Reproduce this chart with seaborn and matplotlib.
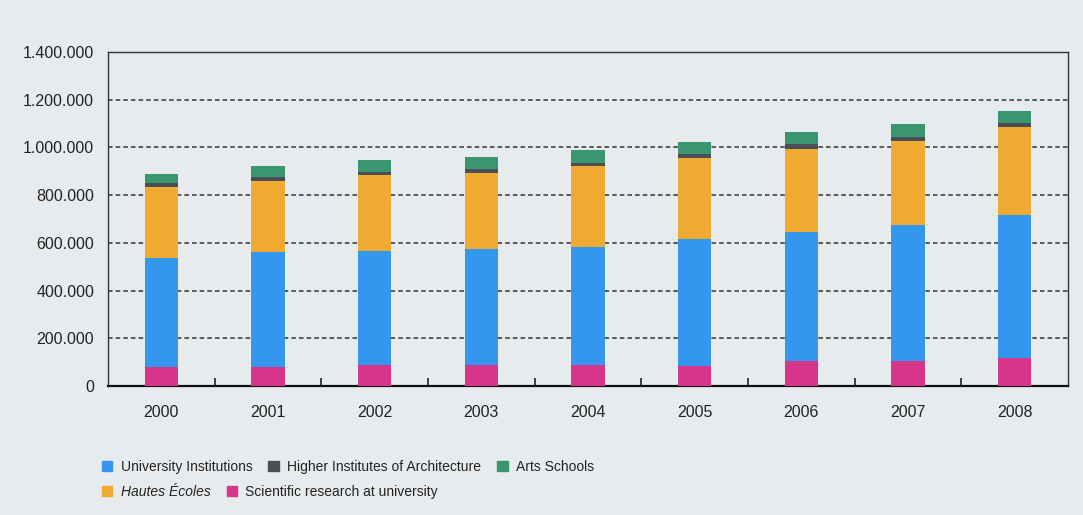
import numpy as np
import pandas as pd
import seaborn as sns
import matplotlib.pyplot as plt
from matplotlib.patches import Patch
from matplotlib.ticker import FuncFormatter, FixedLocator

# Data (in students)
years = ["2000", "2001", "2002", "2003", "2004", "2005", "2006", "2007", "2008"]
research = [78000, 80000, 88000, 88000, 88000, 85000, 106000, 106000, 117000]
university = [457000, 482000, 478000, 486000, 496000, 530000, 541000, 568000, 600000]
hautes_ecoles = [298000, 298000, 319000, 320000, 340000, 342000, 347000, 353000, 369000]
architecture = [17000, 15000, 14000, 16000, 12000, 16000, 19000, 16000, 15000]
arts = [39000, 49000, 49000, 51000, 54000, 50000, 53000, 54000, 51000]

series_names = ["Scientific research at university", "University Institutions",
                "Hautes Écoles", "Higher Institutes of Architecture", "Arts Schools"]
colors = {"Scientific research at university": "#d6358b",
          "University Institutions": "#3497ee",
          "Hautes Écoles": "#efaa33",
          "Higher Institutes of Architecture": "#4b4f55",
          "Arts Schools": "#3a9670"}

df = pd.DataFrame({"Year": years,
                   "Scientific research at university": research,
                   "University Institutions": university,
                   "Hautes Écoles": hautes_ecoles,
                   "Higher Institutes of Architecture": architecture,
                   "Arts Schools": arts})

sns.set_theme(style="white")
plt.rcParams["font.family"] = ["Liberation Sans", "DejaVu Sans"]

bg = "#e8ebee"
fig = plt.figure(figsize=(10.83, 5.15), dpi=100, facecolor=bg)
ax = fig.add_axes([108 / 1083, 1 - 386 / 515, (1068 - 108) / 1083, (386 - 52) / 515])
ax.set_facecolor(bg)

# stacked bars, bottom to top
bottom = np.zeros(len(years))
for name in series_names:
    sns.barplot(data=df, x="Year", y=name, color=colors[name], width=0.31,
                bottom=bottom, ax=ax, saturation=1, linewidth=0, zorder=3)
    bottom = bottom + df[name].values

ax.set_xlim(-0.5, len(years) - 0.5)
ax.set_ylim(0, 1400000)
ax.set_yticks(np.arange(0, 1400001, 200000))
ax.yaxis.set_major_formatter(FuncFormatter(lambda v, p: f"{int(v):,}".replace(",", ".")))
ax.xaxis.set_minor_locator(FixedLocator(np.arange(0.5, len(years) - 1, 1)))
ax.tick_params(axis="x", which="major", length=0, pad=14, labelsize=11.5, colors="#222222")
ax.tick_params(axis="x", which="minor", direction="in", length=6, width=1.2, color="#222222", bottom=True)
ax.tick_params(axis="y", length=0, pad=10, labelsize=11.5, colors="#222222")
ax.set_xlabel("")
ax.set_ylabel("")

for y in range(200000, 1200001, 200000):
    ax.axhline(y, color="#333333", linestyle=(0, (3, 2)), linewidth=1.1, zorder=1)

for side in ["left", "top", "right"]:
    ax.spines[side].set_color("#333333")
    ax.spines[side].set_linewidth(1.0)
ax.spines["bottom"].set_color("#111111")
ax.spines["bottom"].set_linewidth(1.6)

# Legend, two rows like the original
row1 = ["University Institutions", "Higher Institutes of Architecture", "Arts Schools"]
row2 = ["Hautes Écoles", "Scientific research at university"]
kw = dict(frameon=False, handlelength=0.75, handleheight=0.75, handletextpad=0.6,
          columnspacing=1.15, borderpad=0, borderaxespad=0, loc="center left",
          fontsize=10)
leg1 = fig.legend(handles=[Patch(color=colors[n], label=n) for n in row1], ncol=3,
                  bbox_to_anchor=(102 / 1083, 1 - 467 / 515), **kw)
leg2 = fig.legend(handles=[Patch(color=colors[n], label=n) for n in row2], ncol=2,
                  bbox_to_anchor=(102 / 1083, 1 - 492 / 515), **kw)
leg2.get_texts()[0].set_fontstyle("italic")
for t in leg1.get_texts() + leg2.get_texts():
    t.set_color("#222222")

plt.savefig("out.png", dpi=100, facecolor=bg)
